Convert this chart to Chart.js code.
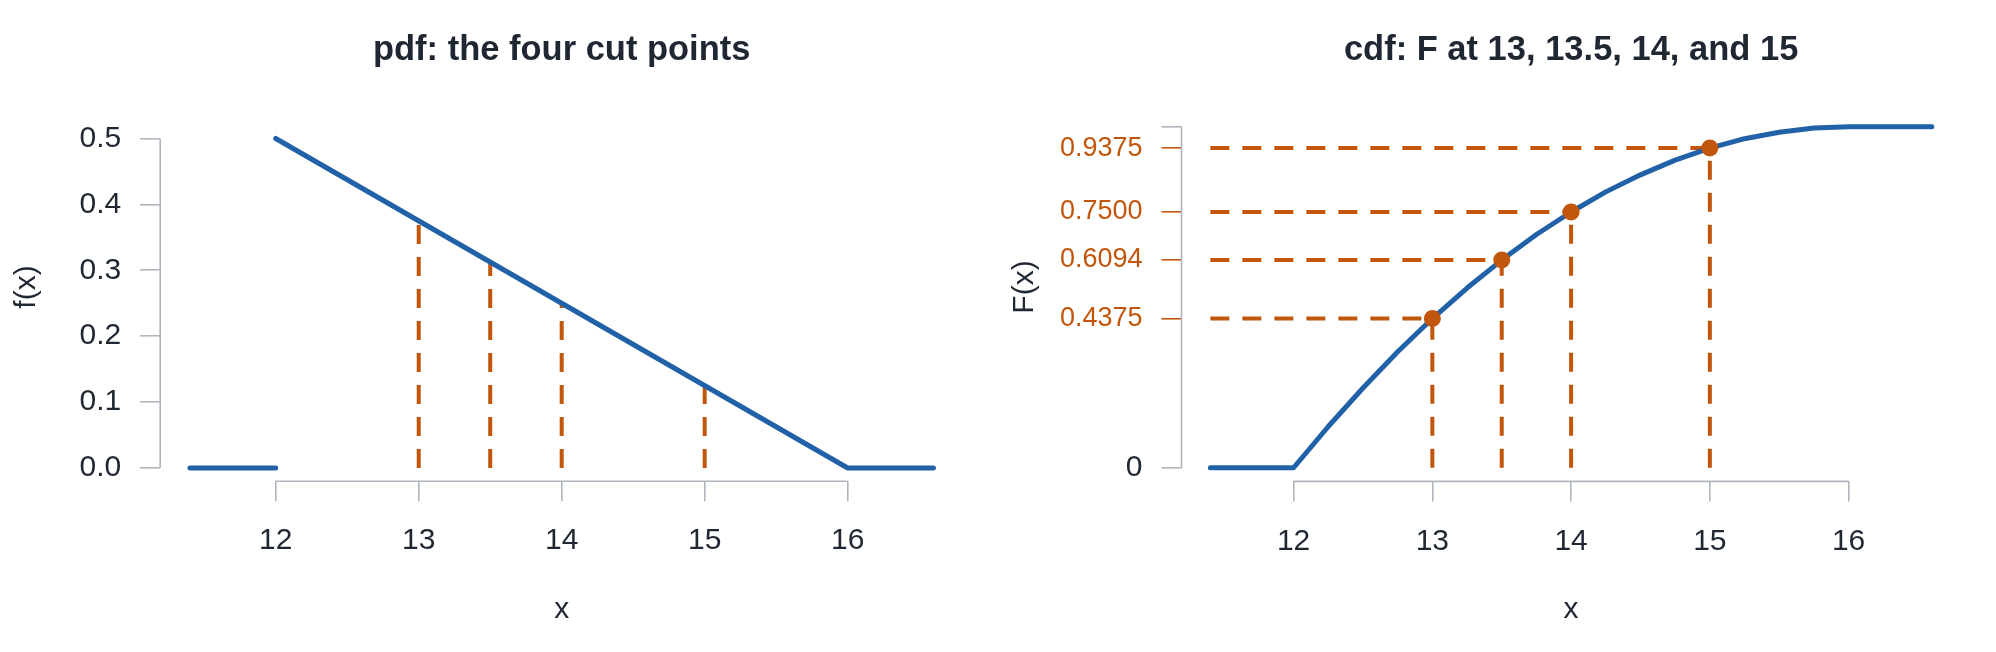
<!DOCTYPE html>
<html>
<head>
<meta charset="utf-8">
<title>pdf and cdf: the four cut points</title>
<script src="https://cdn.jsdelivr.net/npm/chart.js@4.4.1/dist/chart.umd.min.js"></script>
<style>
  html, body { margin: 0; padding: 0; background: #fff; }
  #wrap { display: flex; width: 1996px; height: 652px; }
  canvas { display: block; }
</style>
</head>
<body>
<div id="wrap">
  <canvas id="pdfChart" width="998" height="652"></canvas>
  <canvas id="cdfChart" width="998" height="652"></canvas>
</div>
<script>
// ---- data ----
const xMin = 11.4;
const xMax = 16.6;

// pdf: flat piece, a gap at the jump, then the falling line and the flat tail
const pdfX = [11.4, 12, 12, 12, 16, 16.6];
const pdfY = [0, 0, null, 0.5, 0, 0];

// cdf curve
const cdfX = [11.4, 12, 12.25, 12.5, 12.75, 13, 13.25, 13.5, 13.75, 14, 14.25, 14.5, 14.75, 15, 15.25, 15.5, 15.75, 16, 16.6];
const cdfY = [0, 0, 0.121, 0.234, 0.340, 0.4375, 0.527, 0.609, 0.684, 0.75, 0.809, 0.859, 0.902, 0.9375, 0.965, 0.984, 0.996, 1, 1];

// the four cut points
const cutX = [13, 13.5, 14, 15];
const pdfAtCut = [0.375, 0.3125, 0.25, 0.125];
const cdfAtCut = [0.4375, 0.6094, 0.75, 0.9375];

// ticks
const xTicks = [12, 13, 14, 15, 16];
const pdfYTicks = [0, 0.1, 0.2, 0.3, 0.4, 0.5];
const pdfYTickLabels = ['0.0', '0.1', '0.2', '0.3', '0.4', '0.5'];
const cdfYTicks = [0, 0.4375, 0.6094, 0.75, 0.9375, 1];
const cdfYTickLabels = ['0', '0.4375', '0.6094', '0.7500', '0.9375', ''];

// ---- styles ----
const BLUE = '#2161a8';
const ORANGE = '#c1560c';
const GRAY = '#b0b6be';
const INK = '#1f2733';
const FONT = "'Liberation Sans', Arial, sans-serif";

// R-style 4% axis extension
const xPad = (xMax - xMin) * 0.04;

// axis lines that only span the tick range, plus the titles
const rAxes = {
  id: 'rAxes',
  afterDraw(chart, args, opts) {
    const { ctx, chartArea, scales: { x, y } } = chart;
    ctx.save();
    ctx.strokeStyle = GRAY;
    ctx.lineWidth = 1.6;
    ctx.beginPath();
    ctx.moveTo(chartArea.left, y.getPixelForValue(opts.yTicks[0]));
    ctx.lineTo(chartArea.left, y.getPixelForValue(opts.yTicks[opts.yTicks.length - 1]));
    ctx.moveTo(x.getPixelForValue(xTicks[0]), chartArea.bottom);
    ctx.lineTo(x.getPixelForValue(xTicks[xTicks.length - 1]), chartArea.bottom);
    ctx.stroke();

    ctx.fillStyle = INK;
    ctx.textAlign = 'center';
    ctx.textBaseline = 'alphabetic';
    ctx.font = 'bold 34.5px ' + FONT;
    ctx.fillText(opts.title, (chartArea.left + chartArea.right) / 2, 59.5);

    ctx.font = '30px ' + FONT;
    ctx.textBaseline = 'middle';
    ctx.translate(27, 287);
    ctx.rotate(-Math.PI / 2);
    ctx.fillText(opts.yTitle, 0, 0);
    ctx.restore();
  }
};

const dashed = (pts) => ({
  data: pts,
  showLine: true,
  borderColor: ORANGE,
  borderWidth: 4,
  borderDash: [19, 13],
  borderCapStyle: 'butt',
  pointRadius: 0,
  order: 2
});

function makeOptions(cfg) {
  return {
    responsive: false,
    animation: false,
    events: [],
    layout: { padding: { top: cfg.top, right: cfg.right, left: 0, bottom: 0 } },
    plugins: {
      legend: { display: false },
      tooltip: { enabled: false },
      rAxes: { title: cfg.title, yTitle: cfg.yTitle, yTicks: cfg.yTicks }
    },
    scales: {
      x: {
        type: 'linear',
        min: xMin - xPad,
        max: xMax + xPad,
        afterBuildTicks: s => { s.ticks = xTicks.map(v => ({ value: v })); },
        afterFit: s => { s.height = cfg.xHeight; },
        border: { display: false },
        grid: { drawOnChartArea: false, drawTicks: true, tickLength: 20, color: GRAY, lineWidth: 1.6 },
        ticks: { autoSkip: false, maxRotation: 0, padding: 22, color: INK, font: { family: FONT, size: 30 } },
        title: { display: true, text: 'x', color: INK, font: { family: FONT, size: 30 }, padding: { top: 0, bottom: 24 } }
      },
      y: {
        type: 'linear',
        min: cfg.yMin,
        max: cfg.yMax,
        afterBuildTicks: s => { s.ticks = cfg.yTicks.map(v => ({ value: v })); },
        afterFit: s => { s.width = cfg.yWidth; },
        border: { display: false },
        grid: { drawOnChartArea: false, drawTicks: true, tickLength: 20, color: cfg.gridColor, lineWidth: 1.6 },
        ticks: {
          autoSkip: false,
          padding: 19,
          color: cfg.tickColor,
          font: cfg.tickFont,
          callback: (v, i) => cfg.yLabels[i]
        }
      }
    }
  };
}

// ---- pdf ----
new Chart(document.getElementById('pdfChart'), {
  type: 'scatter',
  data: {
    datasets: [
      {
        data: pdfX.map((x, i) => ({ x: x, y: pdfY[i] })),
        showLine: true,
        spanGaps: false,
        borderColor: BLUE,
        borderWidth: 5,
        borderCapStyle: 'round',
        borderJoinStyle: 'round',
        pointRadius: 0,
        order: 1
      },
      ...cutX.map((cx, i) => dashed([{ x: cx, y: 0 }, { x: cx, y: pdfAtCut[i] }]))
    ]
  },
  options: makeOptions({
    title: 'pdf: the four cut points',
    yTitle: 'f(x)',
    top: 125.3,
    right: 34.8,
    xHeight: 170.8,
    yWidth: 160.2,
    yMin: -0.02,
    yMax: 0.52,
    yTicks: pdfYTicks,
    yLabels: pdfYTickLabels,
    gridColor: GRAY,
    tickColor: INK,
    tickFont: { family: FONT, size: 30 }
  }),
  plugins: [rAxes]
});

// ---- cdf ----
const isCut = i => i > 0 && i < cdfYTicks.length - 1;

new Chart(document.getElementById('cdfChart'), {
  type: 'scatter',
  data: {
    datasets: [
      {
        data: cutX.map((cx, i) => ({ x: cx, y: cdfAtCut[i] })),
        pointRadius: 8.5,
        pointBackgroundColor: ORANGE,
        pointBorderWidth: 0,
        order: 0
      },
      {
        data: cdfX.map((x, i) => ({ x: x, y: cdfY[i] })),
        showLine: true,
        borderColor: BLUE,
        borderWidth: 5,
        borderCapStyle: 'round',
        borderJoinStyle: 'round',
        pointRadius: 0,
        order: 1
      },
      ...cutX.map((cx, i) => dashed([{ x: cx, y: 0 }, { x: cx, y: cdfAtCut[i] }])),
      ...cutX.map((cx, i) => dashed([{ x: xMin, y: cdfAtCut[i] }, { x: cx, y: cdfAtCut[i] }]))
    ]
  },
  options: makeOptions({
    title: 'cdf: F at 13, 13.5, 14, and 15',
    yTitle: 'F(x)',
    top: 113.1,
    right: 35.3,
    xHeight: 170.6,
    yWidth: 183.5,
    yMin: -0.04,
    yMax: 1.04,
    yTicks: cdfYTicks,
    yLabels: cdfYTickLabels,
    gridColor: ctx => isCut(ctx.index) ? ORANGE : GRAY,
    tickColor: ctx => isCut(ctx.index) ? ORANGE : INK,
    tickFont: ctx => ({ family: FONT, size: isCut(ctx.index) ? 27 : 30 })
  }),
  plugins: [rAxes]
});
</script>
</body>
</html>
